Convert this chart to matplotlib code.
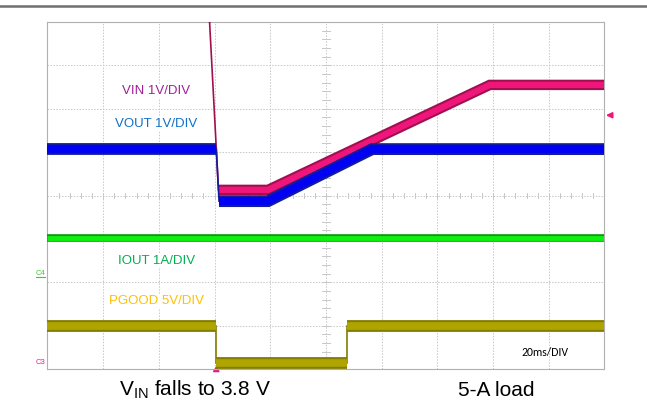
import matplotlib.pyplot as plt
from matplotlib.lines import Line2D
from matplotlib.patches import Polygon

# Oscilloscope screen: 10 horizontal divisions x 8 vertical divisions
# (x, y) vertices of each trace, in divisions
vin_x = [2.87, 2.91, 3.07, 3.96, 7.94, 10.0]
vin_y = [9.00, 8.00, 4.13, 4.13, 6.55, 6.55]

vout_x = [0.0, 3.03, 3.08, 3.96, 5.83, 10.0]
vout_y = [5.07, 5.07, 3.87, 3.87, 5.07, 5.07]

iout_x = [0.0, 10.0]
iout_y = [3.03, 3.03]

pgood_x = [0.0, 3.03, 3.03, 5.38, 5.38, 10.0]
pgood_y = [0.99, 0.99, 0.14, 0.14, 0.99, 0.99]

labels = ["VIN 1V/DIV", "VOUT 1V/DIV", "IOUT 1A/DIV", "PGOOD 5V/DIV"]
label_y = [6.40, 5.65, 2.50, 1.57]
label_colors = ["#A0209A", "#1070C8", "#00B050", "#FFC000"]

fig = plt.figure(figsize=(6.47, 4.09), dpi=100)
plt.rcParams['font.family'] = ['Liberation Sans', 'DejaVu Sans']

# barre grise en haut de la page
fig.add_artist(Line2D([0, 1], [0.985, 0.985], color="#707070", lw=1.8,
                      transform=fig.transFigure))

ax = fig.add_axes([0.0734, 0.0978, 0.8609, 0.8484])
ax.set_xlim(0, 10)
ax.set_ylim(0, 8)
ax.set_xticks([])
ax.set_yticks([])
for s in ax.spines.values():
    s.set_color("#B0B0B0")
    s.set_linewidth(0.8)

# grille pointillee
for gx in range(1, 10):
    ax.axvline(gx, color="#C8C8C8", lw=0.7, ls=(0, (1.5, 1.5)), zorder=1)
for gy in range(1, 8):
    ax.axhline(gy, color="#C8C8C8", lw=0.7, ls=(0, (1.5, 1.5)), zorder=1)

# petites graduations de l'axe central
for i in range(1, 50):
    ax.plot([i * 0.2, i * 0.2], [3.95, 4.05], color="#C8C8C8", lw=0.7, zorder=1)
for i in range(1, 40):
    ax.plot([4.93, 5.07], [i * 0.2, i * 0.2], color="#C8C8C8", lw=0.7, zorder=1)


def draw_trace(tx, ty, edge, core, w1, w2, z):
    # bande epaisse sur les paliers/rampes, trait fin sur les fronts raides
    run_x, run_y = [tx[0]], [ty[0]]
    runs = []
    for i in range(1, len(tx)):
        dx = abs(tx[i] - tx[i - 1])
        dy = abs(ty[i] - ty[i - 1])
        if dy > 4 * dx + 0.01:
            ax.plot(tx[i - 1:i + 1], ty[i - 1:i + 1], color=edge, lw=1.2, zorder=z)
            if len(run_x) > 1:
                runs.append((run_x, run_y))
            run_x, run_y = [tx[i]], [ty[i]]
        else:
            run_x.append(tx[i])
            run_y.append(ty[i])
    if len(run_x) > 1:
        runs.append((run_x, run_y))
    for rx, ry in runs:
        ax.plot(rx, ry, color=edge, lw=w1, solid_joinstyle="miter",
                solid_capstyle="butt", zorder=z)
        ax.plot(rx, ry, color=core, lw=w2, solid_joinstyle="miter",
                solid_capstyle="butt", zorder=z + 0.5)


draw_trace(pgood_x, pgood_y, "#857C00", "#AEA500", 8.5, 5.5, 3)
draw_trace(iout_x, iout_y, "#0A9A0A", "#10F010", 5.5, 3.5, 3)
draw_trace(vin_x, vin_y, "#A0104E", "#F0157A", 7.5, 4.5, 4)
draw_trace(vout_x, vout_y, "#101C9C", "#0000F5", 8.5, 5.5, 5)

for txt, ly, c in zip(labels, label_y, label_colors):
    ax.text(1.95, ly, txt, color=c, fontsize=9.5, ha="center", va="center", zorder=6,
            bbox=dict(facecolor="white", edgecolor="none", pad=0.5))

ax.text(8.93, 0.37, "20ms/DIV", fontsize=8.5, ha="center", va="center", zorder=6,
        family=["Carlito", "Open Sans", "DejaVu Sans"])

# reperes de voies hors du cadre
ax.text(-0.12, 2.2, "C4", color="#30D030", fontsize=5.5, ha="center", va="center",
        rotation=0, clip_on=False)
ax.plot([-0.2, -0.05], [2.12, 2.12], color="#30D030", lw=0.8, clip_on=False)
ax.text(-0.12, 0.14, "C3", color="#E0208A", fontsize=5.5, ha="center", va="center",
        rotation=0, clip_on=False)
ax.add_patch(Polygon([[10.15, 5.91], [10.05, 5.85], [10.15, 5.79]], closed=True,
                     color="#F0157A", clip_on=False))
ax.add_patch(Polygon([[2.98, -0.06], [3.03, 0.04], [3.08, -0.06]], closed=True,
                     color="#E0208A", clip_on=False))

fig.text(0.302, 0.046, r"V$_{\mathregular{IN}}$ falls to 3.8 V", fontsize=15,
         ha="center", va="center")
fig.text(0.767, 0.046, "5-A load", fontsize=15, ha="center", va="center")

fig.savefig("out.png", dpi=100, facecolor="white")
